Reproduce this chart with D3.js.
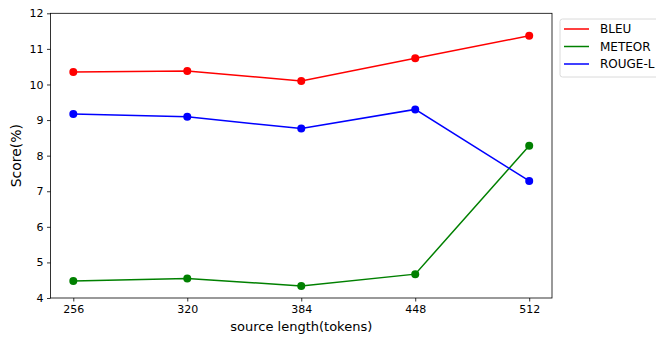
<!DOCTYPE html>
<html>
<head>
<meta charset="utf-8">
<script src="https://cdn.jsdelivr.net/npm/d3@7"></script>
<style>
  body { margin: 0; background: #fff; }
  svg { font-family: "DejaVu Sans", sans-serif; }
</style>
</head>
<body>
<svg id="chart"></svg>
<script>
const lengths = [256, 320, 384, 448, 512];
const bleu = [10.35, 10.38, 10.1, 10.74, 11.37];
const meteor = [4.48, 4.55, 4.34, 4.67, 8.28];
const rouge = [9.17, 9.09, 8.76, 9.3, 7.29];
const yTicks = [4, 5, 6, 7, 8, 9, 10, 11, 12];

const seriesNames = ['BLEU', 'METEOR', 'ROUGE-L'];
const seriesColors = ['#ff0000', '#008000', '#0000ff'];
const seriesValues = [bleu, meteor, rouge];

let width = 656;
let height = 337;
let plotLeft = 50.5, plotRight = 552, plotTop = 13.3, plotBottom = 298;

let svg = d3.select('#chart')
  .attr('width', width)
  .attr('height', height);

let xScale = d3.scaleLinear()
  .domain([243.2, 524.8])
  .range([plotLeft, plotRight]);

let yScale = d3.scaleLinear()
  .domain([4, 12])
  .range([plotBottom, plotTop]);

// x axis
let xAxis = d3.axisBottom(xScale)
  .tickValues(lengths)
  .tickSize(3.5)
  .tickPadding(3.5)
  .tickFormat(d3.format('d'));

let gx = svg.append('g')
  .attr('transform', 'translate(0,' + plotBottom + ')')
  .call(xAxis);

// y axis
let yAxis = d3.axisLeft(yScale)
  .tickValues(yTicks)
  .tickSize(3.5)
  .tickPadding(3.5)
  .tickFormat(d3.format('d'));

let gy = svg.append('g')
  .attr('transform', 'translate(' + plotLeft + ',0)')
  .call(yAxis);

[gx, gy].forEach(g => {
  g.select('.domain').remove();
  g.selectAll('.tick line').attr('stroke', '#000').attr('stroke-width', 0.8);
  g.selectAll('.tick text')
    .attr('fill', '#000')
    .style('font-size', '11px')
    .style('font-family', '"DejaVu Sans", sans-serif');
});

// frame
svg.append('rect')
  .attr('x', plotLeft)
  .attr('y', plotTop)
  .attr('width', plotRight - plotLeft)
  .attr('height', plotBottom - plotTop)
  .attr('fill', 'none')
  .attr('stroke', '#000')
  .attr('stroke-width', 0.8);

// lines and markers
let line = d3.line()
  .x((d, i) => xScale(lengths[i]))
  .y(d => yScale(d));

seriesValues.forEach((vals, k) => {
  svg.append('path')
    .datum(vals)
    .attr('d', line)
    .attr('fill', 'none')
    .attr('stroke', seriesColors[k])
    .attr('stroke-width', 1.5);

  svg.selectAll('.dot' + k)
    .data(vals)
    .enter()
    .append('circle')
    .attr('cx', (d, i) => xScale(lengths[i]))
    .attr('cy', d => yScale(d))
    .attr('r', 4)
    .attr('fill', seriesColors[k]);
});

// axis labels
svg.append('text')
  .attr('x', (plotLeft + plotRight) / 2)
  .attr('y', 331)
  .attr('text-anchor', 'middle')
  .style('font-size', '13px')
  .text('source length(tokens)');

svg.append('text')
  .attr('transform', 'translate(21,' + ((plotTop + plotBottom) / 2) + ') rotate(-90)')
  .attr('text-anchor', 'middle')
  .style('font-size', '14px')
  .text('Score(%)');

// legend
let legend = svg.append('g').attr('transform', 'translate(560,19)');
legend.append('rect')
  .attr('x', 0)
  .attr('y', 0)
  .attr('width', 110)
  .attr('height', 58)
  .attr('rx', 2.5)
  .attr('fill', '#fff')
  .attr('stroke', '#d0d0d0')
  .attr('stroke-width', 0.8);

seriesNames.forEach((name, k) => {
  let yy = 10 + k * 17.5;
  legend.append('line')
    .attr('x1', 4)
    .attr('x2', 29)
    .attr('y1', yy)
    .attr('y2', yy)
    .attr('stroke', seriesColors[k])
    .attr('stroke-width', 1.5);
  legend.append('text')
    .attr('x', 40)
    .attr('y', yy + 4.2)
    .style('font-size', '12px')
    .text(name);
});
</script>
</body>
</html>
